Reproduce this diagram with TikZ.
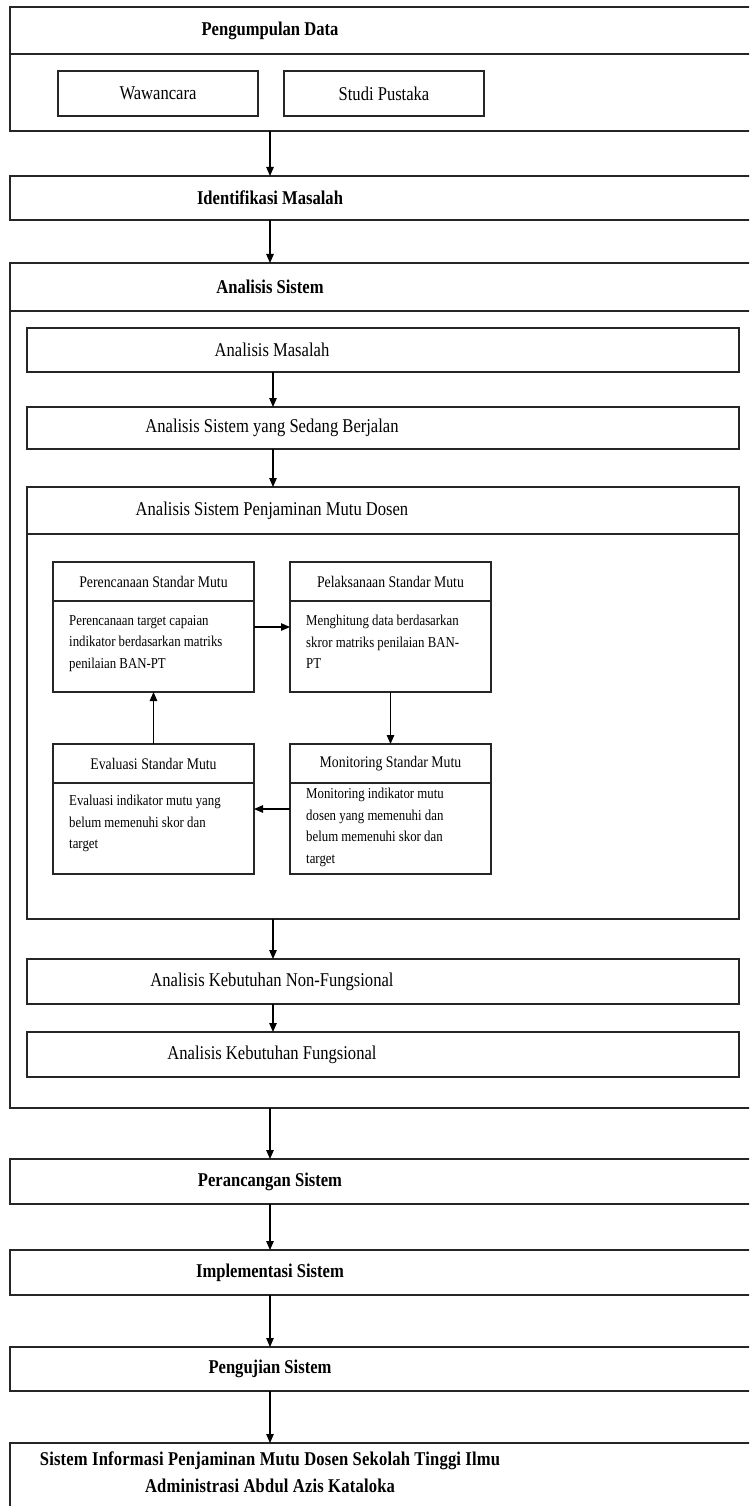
\documentclass[tikz,border=0pt]{standalone}
\usepackage{fontspec}
\setmainfont[FakeStretch=0.85]{Liberation Serif}
\usetikzlibrary{arrows.meta}
\tikzset{
  box/.style={draw=black!85, line width=1.3pt, inner sep=0pt, outer sep=0pt, anchor=north west},
  btitle/.style={font=\fontsize{19.5}{22}\selectfont\bfseries, inner sep=0pt, align=center},
  rtitle/.style={font=\fontsize{19.5}{22}\selectfont, inner sep=0pt, align=center},
  stitle/.style={font=\fontsize{16.2}{18}\selectfont, inner sep=0pt},
  body/.style={font=\fontsize{15.1}{21.5}\selectfont, inner sep=0pt, align=left, anchor=north west},
  hline/.style={draw=black!85, line width=1.3pt},
  arr/.style={draw=black, line width=1.1pt, -{Triangle[length=9pt,width=7.5pt]}}
}
\begin{document}
\begin{tikzpicture}[x=1pt,y=-1pt]
\useasboundingbox (0,0) rectangle (749,1506);
\clip (0,0) rectangle (749,1506);
\fill[white] (0,0) rectangle (749,1506);
% helper coordinates for arrow columns
\coordinate (cx) at (270,0);
\coordinate (ix) at (273,0);
\coordinate (lx) at (153.5,0);
\coordinate (rx) at (390.5,0);
\coordinate (ya) at (0,627);
\coordinate (yb) at (0,809);

% Pengumpulan Data
\node[box, minimum width=760pt, minimum height=124pt] (pd) at (10,7) {};
\draw[hline] (10,54) -- (770,54);
\node[btitle] (pdt) at (270,31) {Pengumpulan Data};
\node[box, rtitle, minimum width=200pt, minimum height=45pt] (waw) at (58,71) {Wawancara};
\node[box, rtitle, minimum width=200pt, minimum height=45pt] (sp) at (284,71) {Studi Pustaka};

% Identifikasi Masalah
\node[box, minimum width=760pt, minimum height=44pt] (im) at (10,176) {};
\node[btitle] (imt) at (270,198) {Identifikasi Masalah};

% Analisis Sistem
\node[box, minimum width=760pt, minimum height=845pt] (as) at (10,263) {};
\draw[hline] (10,311) -- (770,311);
\node[btitle] (ast) at (270,287) {Analisis Sistem};

\node[box, minimum width=712pt, minimum height=44pt] (am) at (27,328) {};
\node[rtitle] (amt) at (272,350) {Analisis Masalah};
\node[box, minimum width=712pt, minimum height=42pt] (asb) at (27,407) {};
\node[rtitle] (asbt) at (272,428) {Analisis Sistem yang Sedang Berjalan};

\node[box, minimum width=712pt, minimum height=432pt] (aspm) at (27,487) {};
\draw[hline] (27,534) -- (739,534);
\node[rtitle] (aspmt) at (272,510.5) {Analisis Sistem Penjaminan Mutu Dosen};

% quality cycle
\node[box, minimum width=201pt, minimum height=130pt] (per) at (53,562) {};
\draw[hline] (53,601) -- (254,601);
\node[stitle] (pert) at (153.5,581.5) {Perencanaan Standar Mutu};
\node[body] (perb) at (69,615) {Perencanaan target capaian\\indikator berdasarkan matriks\\penilaian BAN-PT};

\node[box, minimum width=201pt, minimum height=130pt] (pel) at (290,562) {};
\draw[hline] (290,601) -- (491,601);
\node[stitle] (pelt) at (390.5,581.5) {Pelaksanaan Standar Mutu};
\node[body] (pelb) at (306,615) {Menghitung data berdasarkan\\skror matriks penilaian BAN-\\PT};

\node[box, minimum width=201pt, minimum height=130pt] (eva) at (53,744) {};
\draw[hline] (53,783) -- (254,783);
\node[stitle] (evat) at (153.5,763.5) {Evaluasi Standar Mutu};
\node[body] (evab) at (69,795) {Evaluasi indikator mutu yang\\belum memenuhi skor dan\\target};

\node[box, minimum width=201pt, minimum height=130pt] (mon) at (290,744) {};
\draw[hline] (290,783) -- (491,783);
\node[stitle] (mont) at (390.5,763.5) {Monitoring Standar Mutu};
\node[body] (monb) at (306,788) {Monitoring indikator mutu\\dosen yang memenuhi dan\\belum memenuhi skor dan\\target};

\node[box, minimum width=712pt, minimum height=45pt] (akn) at (27,959) {};
\node[rtitle] (aknt) at (272,981.5) {Analisis Kebutuhan Non-Fungsional};
\node[box, minimum width=712pt, minimum height=45pt] (akf) at (27,1032) {};
\node[rtitle] (akft) at (272,1054.5) {Analisis Kebutuhan Fungsional};

% later stages
\node[box, minimum width=760pt, minimum height=45pt] (pr) at (10,1159) {};
\node[btitle] (prt) at (270,1181.5) {Perancangan Sistem};
\node[box, minimum width=760pt, minimum height=45pt] (impl) at (10,1250) {};
\node[btitle] (implt) at (270,1272.5) {Implementasi Sistem};
\node[box, minimum width=760pt, minimum height=44pt] (peng) at (10,1347) {};
\node[btitle] (pengt) at (270,1369) {Pengujian Sistem};
\node[box, minimum width=760pt, minimum height=100pt] (sis) at (10,1443) {};
\node[btitle, font=\fontsize{19.5}{27}\selectfont\bfseries\addfontfeature{LetterSpace=1}, anchor=north] (sist) at (270,1452) {Sistem Informasi Penjaminan Mutu Dosen Sekolah Tinggi Ilmu\\Administrasi Abdul Azis Kataloka};

% connectors
\draw[arr] (pd.south -| cx) -- (im.north -| cx);
\draw[arr] (im.south -| cx) -- (as.north -| cx);
\draw[arr] (am.south -| ix) -- (asb.north -| ix);
\draw[arr] (asb.south -| ix) -- (aspm.north -| ix);
\draw[arr] (per.east |- ya) -- (pel.west |- ya);
\draw[arr] (pel.south -| rx) -- (mon.north -| rx);
\draw[arr] (mon.west |- yb) -- (eva.east |- yb);
\draw[arr] (eva.north -| lx) -- (per.south -| lx);
\draw[arr] (aspm.south -| ix) -- (akn.north -| ix);
\draw[arr] (akn.south -| ix) -- (akf.north -| ix);
\draw[arr] (as.south -| cx) -- (pr.north -| cx);
\draw[arr] (pr.south -| cx) -- (impl.north -| cx);
\draw[arr] (impl.south -| cx) -- (peng.north -| cx);
\draw[arr] (peng.south -| cx) -- (sis.north -| cx);
\end{tikzpicture}
\end{document}
